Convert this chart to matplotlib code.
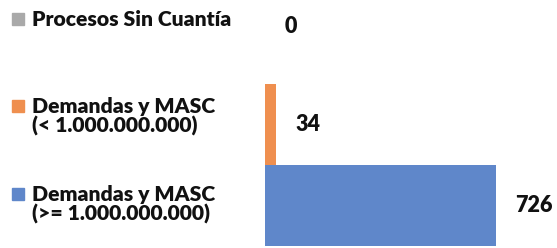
import matplotlib.pyplot as plt
from matplotlib.patches import Rectangle

categorias = ['Demandas y MASC\n(>= 1.000.000.000)',
              'Demandas y MASC\n(< 1.000.000.000)',
              'Procesos Sin Cuantía']
valores = [726, 34, 0]
colores = ['#5F87CA', '#EF8F4F', '#A9A9A9']

W, H = 557, 248
fig = plt.figure(figsize=(W / 100, H / 100), dpi=100)
ax = fig.add_axes([265 / W, 0, (W - 265) / W, 1])

pos = list(range(len(valores)))
ax.barh(pos, valores, height=1.0, color=colores, linewidth=0)
ax.set_xlim(0, 917)
ax.set_ylim(-0.519, 2.53)
ax.axis('off')

# etiquetas de datos (la del cero queda algo más arriba)
for p, v in zip(pos, valores):
    dy = 12 if v == 0 else 0
    ax.annotate(str(v), (v, p), xytext=(14, dy), textcoords='offset points',
                ha='left', va='center', fontsize=15.5, fontweight='heavy',
                family='Lato', color='#111111')

# leyenda a la izquierda
lineas = [
    (19, 'Procesos Sin Cuantía'),
    (106, 'Demandas y MASC'),
    (126, '(< 1.000.000.000)'),
    (194, 'Demandas y MASC'),
    (214, '(>= 1.000.000.000)'),
]
for y, t in lineas:
    fig.text(32 / W, 1 - y / H, t, ha='left', va='center', fontsize=15.2,
             fontweight='heavy', family='Lato', color='#111111')

for y, c in [(19, '#A9A9A9'), (106, '#EF8F4F'), (194, '#5F87CA')]:
    fig.add_artist(Rectangle((12 / W, 1 - (y + 6) / H), 12 / W, 12 / H,
                             transform=fig.transFigure, color=c))

fig.savefig('out.png', dpi=100)
